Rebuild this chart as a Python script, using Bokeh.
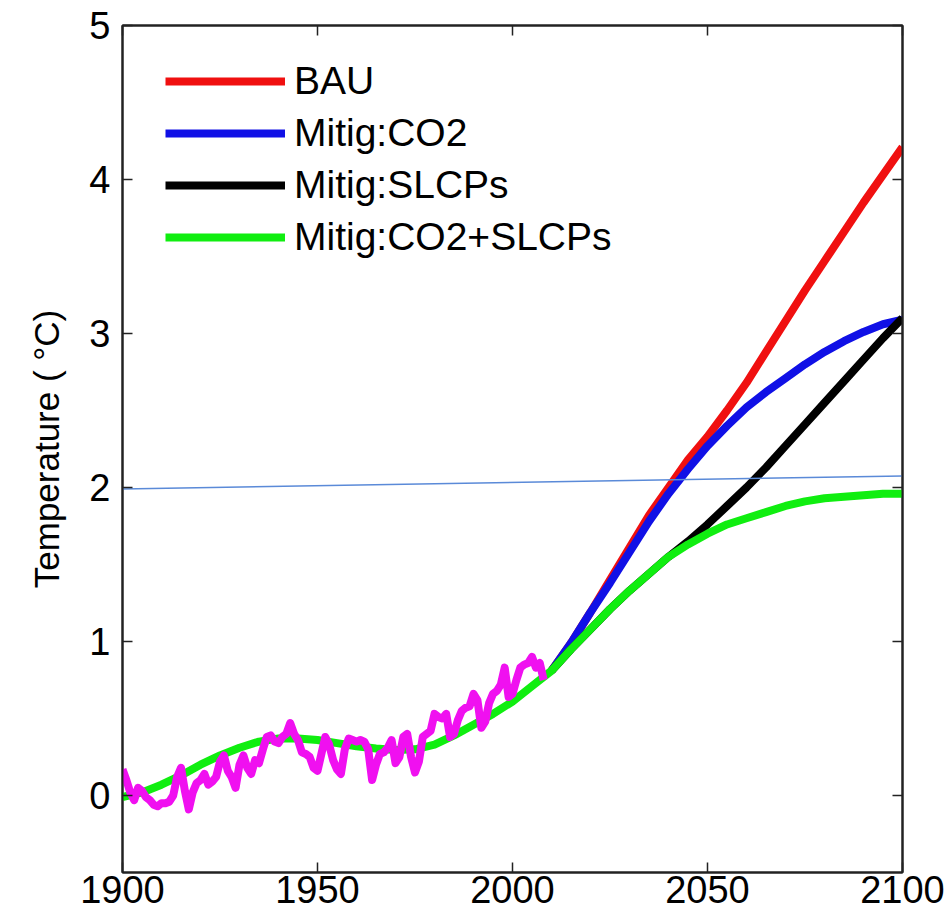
from bokeh.plotting import figure
from bokeh.models import Legend, LegendItem, LinearAxis, FixedTicker
from bokeh.embed import file_html
from bokeh.resources import INLINE

# Observed annual temperature anomaly 1900-2008 (magenta)
obs_years = list(range(1900, 2009))
obs_temp = [
    0.17, 0.10, 0.02, -0.03, 0.05, 0.03, -0.01, -0.03, -0.06, -0.07,
    -0.05, -0.05, -0.04, 0.00, 0.12, 0.18, 0.03, -0.09, 0.02, 0.08,
    0.10, 0.14, 0.07, 0.09, 0.12, 0.22, 0.26, 0.16, 0.12, 0.05,
    0.20, 0.26, 0.18, 0.14, 0.23, 0.21, 0.30, 0.38, 0.39, 0.35,
    0.34, 0.38, 0.40, 0.47, 0.40, 0.36, 0.28, 0.27, 0.25, 0.18,
    0.16, 0.27, 0.38, 0.33, 0.23, 0.17, 0.14, 0.30, 0.37, 0.36,
    0.35, 0.36, 0.35, 0.30, 0.10, 0.20, 0.27, 0.28, 0.31, 0.36,
    0.21, 0.25, 0.38, 0.40, 0.25, 0.15, 0.22, 0.38, 0.40, 0.42,
    0.53, 0.51, 0.50, 0.53, 0.38, 0.40, 0.49, 0.55, 0.57, 0.58,
    0.66, 0.62, 0.44, 0.48, 0.60, 0.66, 0.68, 0.72, 0.83, 0.64,
    0.66, 0.75, 0.83, 0.85, 0.86, 0.90, 0.83, 0.86, 0.75,
]

# Simulated historical period (shared by all scenarios) 1900-2005
hist_years = list(range(1900, 2010, 5))
hist_temp = [-0.01, 0.02, 0.07, 0.13, 0.20, 0.26, 0.31, 0.35, 0.37, 0.37, 0.36,
             0.34, 0.32, 0.305, 0.295, 0.30, 0.33, 0.39, 0.46, 0.53, 0.61, 0.71]

# Projections 2010-2100
proj_years = list(range(2010, 2105, 5))
bau = [0.81, 0.99, 1.19, 1.40, 1.61, 1.82, 2.00, 2.18, 2.33, 2.50, 2.68,
       2.88, 3.08, 3.28, 3.47, 3.66, 3.85, 4.03, 4.21]
mitig_co2 = [0.81, 0.99, 1.19, 1.38, 1.58, 1.78, 1.96, 2.12, 2.27, 2.40, 2.52,
             2.62, 2.71, 2.80, 2.88, 2.95, 3.01, 3.06, 3.09]
mitig_slcp = [0.81, 0.95, 1.08, 1.21, 1.33, 1.44, 1.55, 1.65, 1.76, 1.88, 2.00,
              2.13, 2.27, 2.41, 2.55, 2.69, 2.83, 2.97, 3.10]
mitig_both = [0.81, 0.95, 1.08, 1.21, 1.33, 1.44, 1.55, 1.63, 1.70, 1.76, 1.80,
              1.84, 1.88, 1.91, 1.93, 1.94, 1.95, 1.96, 1.96]

# 2 degree threshold line
thresh_x = [1900, 2100]
thresh_y = [1.99, 2.075]

x_ticks = [1900, 1950, 2000, 2050, 2100]
y_ticks = [0, 1, 2, 3, 4, 5]

FONT = "Liberation Sans"

p = figure(width=947, height=920, x_range=(1900, 2100), y_range=(-0.5, 5),
           output_backend="svg", toolbar_location=None,
           min_border_left=122, min_border_right=45, min_border_top=25,
           min_border_bottom=48)
p.grid.visible = False
p.outline_line_color = "#222222"
p.outline_line_width = 2
p.background_fill_color = "white"
p.border_fill_color = "white"

def style_axis(ax, ticks, show_labels):
    ax.ticker = FixedTicker(ticks=ticks)
    ax.axis_line_color = "#222222"
    ax.axis_line_width = 2
    ax.major_tick_in = 10
    ax.major_tick_out = 0
    ax.major_tick_line_color = "#222222"
    ax.major_tick_line_width = 1.5
    ax.minor_tick_line_color = None
    if show_labels:
        ax.major_label_text_font = FONT
        ax.major_label_text_font_size = "38px"
        ax.major_label_text_color = "black"
    else:
        ax.major_label_text_font_size = "1px"
        ax.major_label_text_color = None
        ax.major_label_standoff = 0

xa = p.xaxis[0]
style_axis(xa, x_ticks, True)
xa.major_label_standoff = 3
ya = p.yaxis[0]
style_axis(ya, y_ticks, True)
ya.major_label_standoff = 12
ya.axis_label = "Temperature ( °C)"
ya.axis_label_text_font = FONT
ya.axis_label_text_font_size = "35px"
ya.axis_label_text_font_style = "normal"
ya.axis_label_text_color = "black"
ya.axis_label_standoff = 20

top_ax = LinearAxis()
style_axis(top_ax, x_ticks, False)
p.add_layout(top_ax, "above")
right_ax = LinearAxis()
style_axis(right_ax, y_ticks, False)
p.add_layout(right_ax, "right")

lw = 8
hist_full = hist_years + proj_years
r_bau = p.line(proj_years, bau, line_color="#f01010", line_width=lw)
r_co2 = p.line(proj_years, mitig_co2, line_color="#1010e6", line_width=lw)
r_slcp = p.line(proj_years, mitig_slcp, line_color="black", line_width=lw)
r_both = p.line(hist_full, hist_temp + mitig_both, line_color="#10ee10", line_width=lw,
                line_join="round")
p.line(obs_years, obs_temp, line_color="#f010f0", line_width=8, line_join="round")
p.line(thresh_x, thresh_y, line_color="#5a8ad8", line_width=1.5)

legend = Legend(items=[
    LegendItem(label="BAU", renderers=[r_bau]),
    LegendItem(label="Mitig:CO2", renderers=[r_co2]),
    LegendItem(label="Mitig:SLCPs", renderers=[r_slcp]),
    LegendItem(label="Mitig:CO2+SLCPs", renderers=[r_both]),
], location=(43, 613))
legend.glyph_width = 120
legend.glyph_height = 44
legend.label_height = 44
legend.spacing = 8
legend.padding = 0
legend.margin = 0
legend.label_standoff = 9
legend.label_text_font = FONT
legend.label_text_font_size = "39px"
legend.label_text_color = "black"
legend.border_line_color = None
legend.background_fill_alpha = 0
p.add_layout(legend, "center")

open("out.html", "w").write(file_html(p, INLINE))
